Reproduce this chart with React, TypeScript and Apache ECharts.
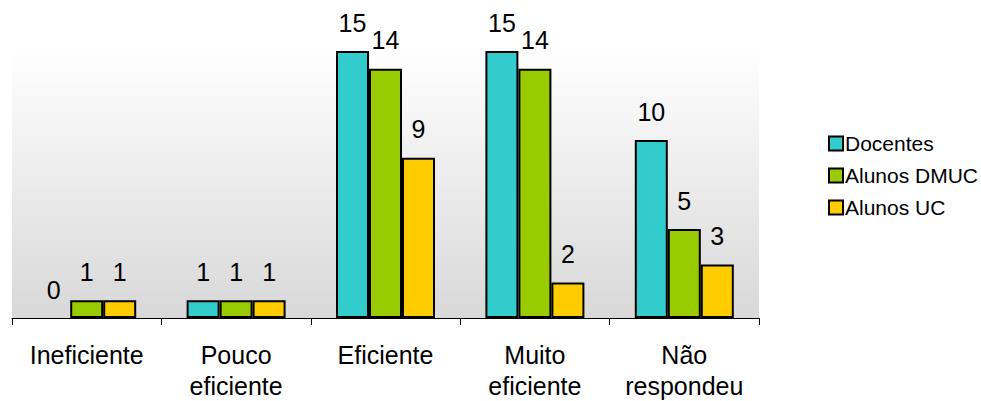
import React, { useEffect, useRef } from "react";
import * as echarts from "echarts";

const categories = ["Ineficiente", "Pouco\neficiente", "Eficiente", "Muito\neficiente", "Não\nrespondeu"];
const seriesNames = ["Docentes", "Alunos DMUC", "Alunos UC"];
const docentes = [0, 1, 15, 15, 10];
const alunosDMUC = [1, 1, 14, 14, 5];
const alunosUC = [1, 1, 9, 2, 3];
const colors = ["#33CCCC", "#99CC00", "#FFCC00"];

export default function App() {
  const ref = useRef<HTMLDivElement>(null);
  useEffect(() => {
    if (!ref.current) return;
    const chart = echarts.init(ref.current, null, { renderer: "svg" });
    const font = "'Liberation Sans', Arial, sans-serif";
    const values = [docentes, alunosDMUC, alunosUC];
    chart.setOption({
      animation: false,
      textStyle: { fontFamily: font },
      grid: {
        left: 12,
        right: 222,
        top: 48,
        bottom: 83,
        show: true,
        borderWidth: 0,
        backgroundColor: new echarts.graphic.LinearGradient(0, 0, 0, 1, [
          { offset: 0, color: "#ffffff" },
          { offset: 1, color: "#d8d8d8" },
        ]),
      },
      legend: {
        orient: "vertical",
        left: 823,
        top: 128,
        itemWidth: 14,
        itemHeight: 14,
        itemGap: 11,
        icon: "rect",
        textStyle: { fontSize: 21, color: "#000", fontFamily: font, padding: [0, 0, 0, -3] },
        data: seriesNames,
      },
      xAxis: {
        type: "category",
        data: categories,
        axisLine: { lineStyle: { color: "#000", width: 1 } },
        axisTick: { show: true, length: 7, lineStyle: { color: "#000" } },
        axisLabel: {
          color: "#000",
          fontSize: 25,
          lineHeight: 31,
          margin: 21,
          fontFamily: font,
          interval: 0,
        },
      },
      yAxis: {
        type: "value",
        min: 0,
        max: 15.17,
        show: false,
        splitLine: { show: false },
      },
      series: seriesNames.map((name, i) => ({
        name,
        type: "bar",
        data: values[i].map((v) =>
          v === 0 ? { value: v, itemStyle: { borderWidth: 0, color: "rgba(0,0,0,0)" } } : v
        ),
        barWidth: 33,
        barGap: "0%",
        itemStyle: { color: colors[i], borderColor: "#000", borderWidth: 2 },
        label: {
          show: true,
          position: "top",
          distance: 16,
          color: "#000",
          fontSize: 25,
          fontFamily: font,
        },
      })),
    });
    return () => chart.dispose();
  }, []);
  return <div ref={ref} style={{ width: 981, height: 401, position: "absolute", left: 0, top: 0, background: "#fff" }} />;
}
